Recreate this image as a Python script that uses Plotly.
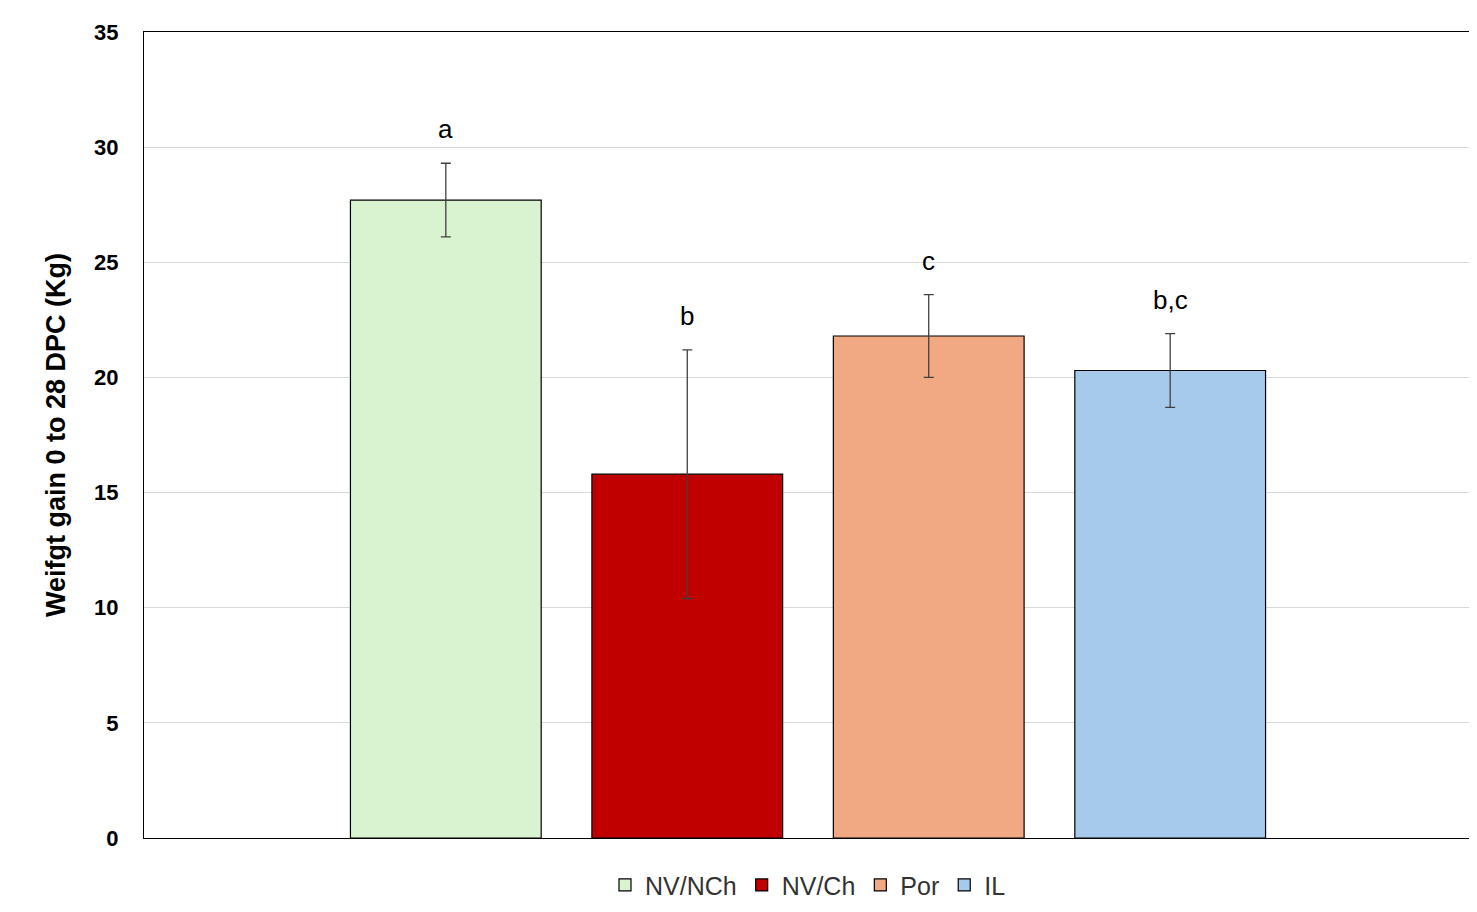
import plotly.graph_objects as go

groups = ["NV/NCh", "NV/Ch", "Por", "IL"]
gain = [27.7, 15.8, 21.8, 20.3]
err = [1.6, 5.4, 1.8, 1.6]
letters = ["a", "b", "c", "b,c"]
colors = ["#d9f2d0", "#c00000", "#f1a983", "#a6caec"]

fig = go.Figure()
for i, g in enumerate(groups):
    fig.add_trace(go.Bar(
        x=[i], y=[gain[i]], name=g, width=0.79,
        marker=dict(color=colors[i], line=dict(color="black", width=1.2)),
        error_y=dict(type="data", array=[err[i]], color="#404040", thickness=1.3, width=5),
    ))
    fig.add_annotation(x=i, y=gain[i] + err[i], text=letters[i], showarrow=False,
                       yshift=34, font=dict(size=26, color="black"))

fig.update_layout(
    width=1477, height=912, plot_bgcolor="white", paper_bgcolor="white",
    margin=dict(l=136, r=12, t=17, b=74),
    font=dict(family="Liberation Sans, Arial, sans-serif", color="black"),
    showlegend=True,
    legend=dict(orientation="h", x=0.5, xanchor="center", y=-0.03, yanchor="top",
                font=dict(size=25, family="Liberation Sans, Arial", color="#333"),
                itemwidth=30, traceorder="normal"),
    barmode="overlay",
)
fig.update_xaxes(range=[-1.25, 4.25], showticklabels=False, showline=True,
                 linecolor="black", mirror=True, linewidth=1.2, showgrid=False)
fig.update_yaxes(range=[0, 35], dtick=5, showline=True, linecolor="black", mirror=True,
                 linewidth=1.2, gridcolor="#d9d9d9", gridwidth=1.2,
                 tickfont=dict(size=22, color="black", family="Liberation Sans, Arial"),
                 ticks="", ticklabelstandoff=20,
                 title=dict(text="<b>Weifgt gain 0 to 28 DPC (Kg)</b>", font=dict(size=27), standoff=20))
fig.for_each_yaxis(lambda a: a.update(tickprefix="<b>", ticksuffix="</b>"))
fig.write_html("out.html")
